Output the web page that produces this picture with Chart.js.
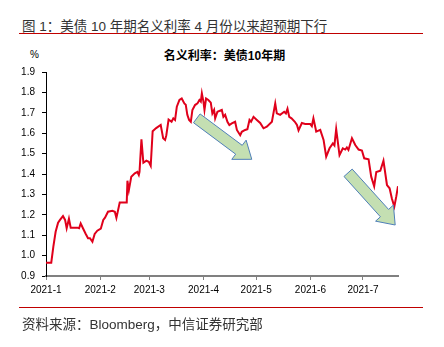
<!DOCTYPE html>
<html>
<head>
<meta charset="utf-8">
<script src="https://cdn.jsdelivr.net/npm/chart.js@4"></script>
<style>
  body { margin: 0; background: #fff; }
  #wrap { position: relative; width: 444px; height: 347px; overflow: hidden; font-family: "Liberation Sans", "Noto Sans CJK SC", sans-serif; }
  #chart { position: absolute; left: 0; top: 0; }
  .txt { position: absolute; white-space: nowrap; }
  #head { left: 22px; top: 15px; font-size: 13.5px; color: #333; }
  #foot { left: 22px; top: 313px; font-size: 13.5px; color: #333; }
  .rule { position: absolute; left: 19px; width: 404px; height: 1px; background: #c00000; }
  #title { left: 0; width: 449px; text-align: center; top: 46px; font-size: 12px; font-weight: bold; color: #000; }
  #unit { left: 30px; top: 49px; font-size: 10px; color: #000; }
</style>
</head>
<body>
<div id="wrap">
  <div class="txt" id="head">图 1：美债 10 年期名义利率 4 月份以来超预期下行</div>
  <div class="rule" style="top:33px"></div>
  <div class="txt" id="title">名义利率：美债10年期</div>
  <div class="txt" id="unit">%</div>
  <canvas id="chart" width="444" height="347"></canvas>
  <div class="rule" style="top:307px"></div>
  <div class="txt" id="foot">资料来源：Bloomberg，中信证券研究部</div>
</div>
<script>
// days since 2021-01-01 and 10y yield (%)
const days = [
  0, 3, 4.2, 5.5, 6.9, 8, 9.7, 10.9, 11.8, 13.1, 14.1, 17.9, 18.9, 19.8, 21.1, 22.7, 24, 25.1, 26.5, 27.8,
  29.3, 31.3, 32.7, 33.7, 35.4, 37.9, 39.3, 40.2, 42.1, 45, 46.1, 46.5, 47.3, 48.7, 50.7, 52.2, 53, 53.4, 54.5, 55.6,
  57.3, 58.7, 59.8, 60.9, 62.9, 65.5, 66.9, 68, 68.7, 70, 71.7, 72.7, 73.7, 74.7, 76.2, 77.5, 79, 79.8, 80.7, 81.7,
  82.7, 83.6, 85.1, 86.5, 87.6, 88.4, 89, 89.9, 90.5, 91.4, 92.7, 94.1, 95, 96, 96.6, 97.9, 100.4, 101.3, 102.3, 103.6,
  104.7, 106.1, 108, 109, 110.9, 111.8, 113.7, 115, 116.2, 117.1, 118.5, 120.4, 122.3, 124.2, 126.1, 129, 130.9, 131.8, 133.7, 136,
  137, 137.9, 138.9, 140.2, 142.1, 143.3, 144.2, 146.1, 148, 150.9, 151.8, 152.7, 154.3, 156.6, 158.5, 160, 161.9, 163.8, 164.7, 165.7,
  167.6, 169.5, 170.9, 171.8, 172.7, 174.7, 176.6, 178.5, 180.4, 181.7, 184.2, 185.7, 187.4, 188.6, 190.9, 192.7, 194.7, 196.2, 197.5, 198.9,
  200, 201
];
const yields = [
  0.965, 0.965, 1.044, 1.117, 1.161, 1.175, 1.194, 1.175, 1.134, 1.181, 1.137, 1.137, 1.134, 1.158, 1.134, 1.106, 1.085, 1.085, 1.068, 1.106,
  1.122, 1.132, 1.175, 1.186, 1.215, 1.22, 1.215, 1.185, 1.26, 1.26, 1.26, 1.367, 1.32, 1.387, 1.403, 1.41, 1.395, 1.41, 1.57, 1.455,
  1.465, 1.46, 1.44, 1.61, 1.625, 1.64, 1.575, 1.567, 1.59, 1.667, 1.656, 1.673, 1.665, 1.73, 1.763, 1.77, 1.746, 1.74, 1.69, 1.665,
  1.656, 1.714, 1.738, 1.746, 1.763, 1.755, 1.795, 1.755, 1.714, 1.77, 1.763, 1.75, 1.697, 1.714, 1.673, 1.705, 1.714, 1.68, 1.69, 1.656,
  1.64, 1.648, 1.656, 1.616, 1.59, 1.607, 1.616, 1.62, 1.665, 1.656, 1.68, 1.665, 1.65, 1.624, 1.632, 1.656, 1.746, 1.697, 1.69, 1.705,
  1.697, 1.72, 1.68, 1.673, 1.656, 1.64, 1.614, 1.65, 1.645, 1.645, 1.635, 1.673, 1.608, 1.616, 1.567, 1.485, 1.526, 1.55, 1.54, 1.62,
  1.493, 1.526, 1.52, 1.53, 1.518, 1.575, 1.542, 1.52, 1.515, 1.477, 1.472, 1.387, 1.34, 1.41, 1.416, 1.465, 1.346, 1.33, 1.28, 1.24,
  1.289, 1.34
];

const monthStarts = [0, 31, 59, 90, 120, 151, 181];
const monthLabels = ['2021-1', '2021-2', '2021-3', '2021-4', '2021-5', '2021-6', '2021-7'];
const yTicks = [0.9, 1.0, 1.1, 1.2, 1.3, 1.4, 1.5, 1.6, 1.7, 1.8, 1.9];

// trend arrows: [tailDay, tailValue, tipDay, tipValue]
const arrowPaths = [
  [86.1, 1.673, 117.5, 1.472],
  [172.5, 1.406, 199.4, 1.15]
];

const points = days.map((d, i) => ({ x: d, y: yields[i] }));

// block arrows drawn on top of the line
const arrowPlugin = {
  id: 'arrows',
  afterDatasetsDraw(chart) {
    const ctx = chart.ctx;
    const xs = chart.scales.x, ys = chart.scales.y;
    arrowPaths.forEach(a => {
      const x0 = xs.getPixelForValue(a[0]), y0 = ys.getPixelForValue(a[1]);
      const x1 = xs.getPixelForValue(a[2]), y1 = ys.getPixelForValue(a[3]);
      const len = Math.hypot(x1 - x0, y1 - y0);
      const ux = (x1 - x0) / len, uy = (y1 - y0) / len;
      const nx = -uy, ny = ux;
      const bw = 5.5, hw = 12, hl = 16;
      const bx = x1 - ux * hl, by = y1 - uy * hl;
      ctx.save();
      ctx.beginPath();
      ctx.moveTo(x0 + nx * bw, y0 + ny * bw);
      ctx.lineTo(bx + nx * bw, by + ny * bw);
      ctx.lineTo(bx + nx * hw, by + ny * hw);
      ctx.lineTo(x1, y1);
      ctx.lineTo(bx - nx * hw, by - ny * hw);
      ctx.lineTo(bx - nx * bw, by - ny * bw);
      ctx.lineTo(x0 - nx * bw, y0 - ny * bw);
      ctx.closePath();
      ctx.fillStyle = '#c4dfb2';
      ctx.fill();
      ctx.lineWidth = 1;
      ctx.strokeStyle = '#4f7fb8';
      ctx.stroke();
      ctx.restore();
    });
  }
};

new Chart(document.getElementById('chart'), {
  type: 'line',
  data: {
    datasets: [{
      data: points,
      borderColor: '#e0001b',
      borderWidth: 2,
      pointRadius: 0,
      tension: 0,
      fill: false
    }]
  },
  options: {
    responsive: false,
    animation: false,
    layout: { padding: { left: 10, top: 72, right: 46, bottom: 47 } },
    plugins: { legend: { display: false }, title: { display: false }, tooltip: { enabled: false } },
    scales: {
      x: {
        type: 'linear',
        min: 0,
        max: 201,
        afterBuildTicks: s => { s.ticks = monthStarts.map(v => ({ value: v })); },
        afterFit: s => { s.height = 24; },
        grid: { drawOnChartArea: false, drawTicks: true, tickLength: 4, color: '#808080' },
        border: { display: true, color: '#808080', width: 2 },
        ticks: {
          autoSkip: false,
          maxRotation: 0,
          padding: 4,
          color: '#000',
          font: { family: 'Liberation Sans', size: 10 },
          callback: (v, i) => monthLabels[i]
        }
      },
      y: {
        min: 0.9,
        max: 1.9,
        afterBuildTicks: s => { s.ticks = yTicks.map(v => ({ value: v })); },
        afterFit: s => { s.width = 36; },
        grid: { drawOnChartArea: false, drawTicks: true, tickLength: 4, color: '#000' },
        border: { display: true, color: '#000', width: 1 },
        ticks: {
          padding: 7,
          color: '#000',
          font: { family: 'Liberation Sans', size: 10 },
          callback: v => Number(v).toFixed(1)
        }
      }
    }
  },
  plugins: [arrowPlugin]
});
</script>
</body>
</html>
